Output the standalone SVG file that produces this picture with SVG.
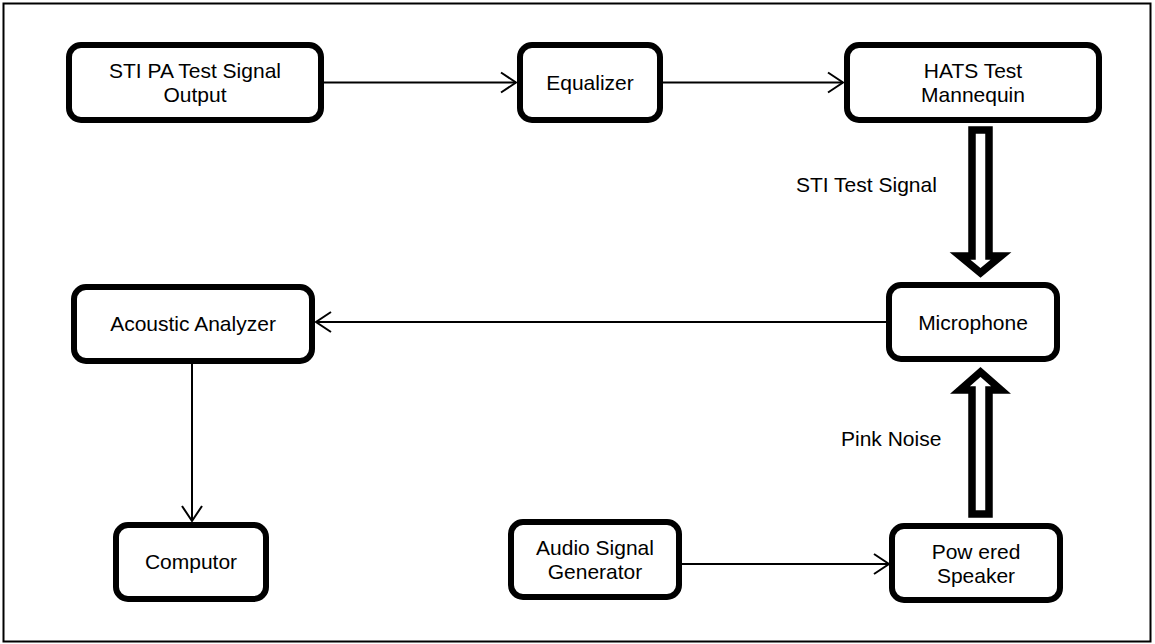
<svg xmlns="http://www.w3.org/2000/svg" width="1155" height="644" viewBox="0 0 1155 644">
<defs>
<style>
.node rect{fill:#fff;stroke:#000;stroke-width:6}
text{font-family:"Liberation Sans",Arial,sans-serif;font-size:21px;fill:#000}
.node text{text-anchor:middle}
.thin{fill:none;stroke:#000;stroke-width:2}
.thick{fill:#fff;stroke:#000;stroke-width:7.5;stroke-linejoin:miter;stroke-miterlimit:10}
</style>
<marker id="open" markerUnits="userSpaceOnUse" markerWidth="20" markerHeight="24" viewBox="-17 -12 20 24" refX="0" refY="0" orient="auto">
<path d="M-15,-10 L0,0 L-15,10" fill="none" stroke="#000" stroke-width="2"/>
</marker>
</defs>
<rect x="0" y="0" width="1155" height="644" fill="#fff"/>
<rect x="3.5" y="3.5" width="1147" height="638" fill="none" stroke="#000" stroke-width="2"/>
<g id="connectors">
<line class="thin" x1="324" y1="82.5" x2="516" y2="82.5" marker-end="url(#open)"/>
<line class="thin" x1="663" y1="82.5" x2="843" y2="82.5" marker-end="url(#open)"/>
<line class="thin" x1="886" y1="322" x2="316" y2="322" marker-end="url(#open)"/>
<line class="thin" x1="192" y1="364" x2="192" y2="521" marker-end="url(#open)"/>
<line class="thin" x1="682" y1="564" x2="889" y2="564" marker-end="url(#open)"/>
<path class="thick" d="M972,130 L989,130 L989,256 L1001,256 L980.5,273 L960,256 L972,256 Z"/>
<path class="thick" d="M972,514 L989,514 L989,390 L1001,390 L980.5,372 L960,390 L972,390 Z"/>
<text x="796" y="192">STI Test Signal</text>
<text x="841" y="446">Pink Noise</text>
</g>
<g id="node-sti-output" class="node">
<rect x="69" y="45" width="252" height="75" rx="12"/>
<text x="195" y="78">STI PA Test Signal</text>
<text x="195" y="102">Output</text>
</g>
<g id="node-equalizer" class="node">
<rect x="520" y="45" width="140" height="75" rx="12"/>
<text x="590" y="90">Equalizer</text>
</g>
<g id="node-hats" class="node">
<rect x="847" y="45" width="252" height="75" rx="12"/>
<text x="973" y="78">HATS Test</text>
<text x="973" y="102">Mannequin</text>
</g>
<g id="node-analyzer" class="node">
<rect x="74" y="287" width="238" height="74" rx="12"/>
<text x="193" y="331">Acoustic Analyzer</text>
</g>
<g id="node-computor" class="node">
<rect x="116" y="525" width="150" height="74" rx="12"/>
<text x="191" y="569">Computor</text>
</g>
<g id="node-microphone" class="node">
<rect x="889" y="285" width="168" height="74" rx="12"/>
<text x="973" y="330">Microphone</text>
</g>
<g id="node-audio-generator" class="node">
<rect x="511" y="522" width="168" height="75" rx="12"/>
<text x="595" y="555">Audio Signal</text>
<text x="595" y="579">Generator</text>
</g>
<g id="node-speaker" class="node">
<rect x="892" y="526" width="168" height="74" rx="12"/>
<text x="976" y="559">Pow ered</text>
<text x="976" y="583">Speaker</text>
</g>
</svg>
